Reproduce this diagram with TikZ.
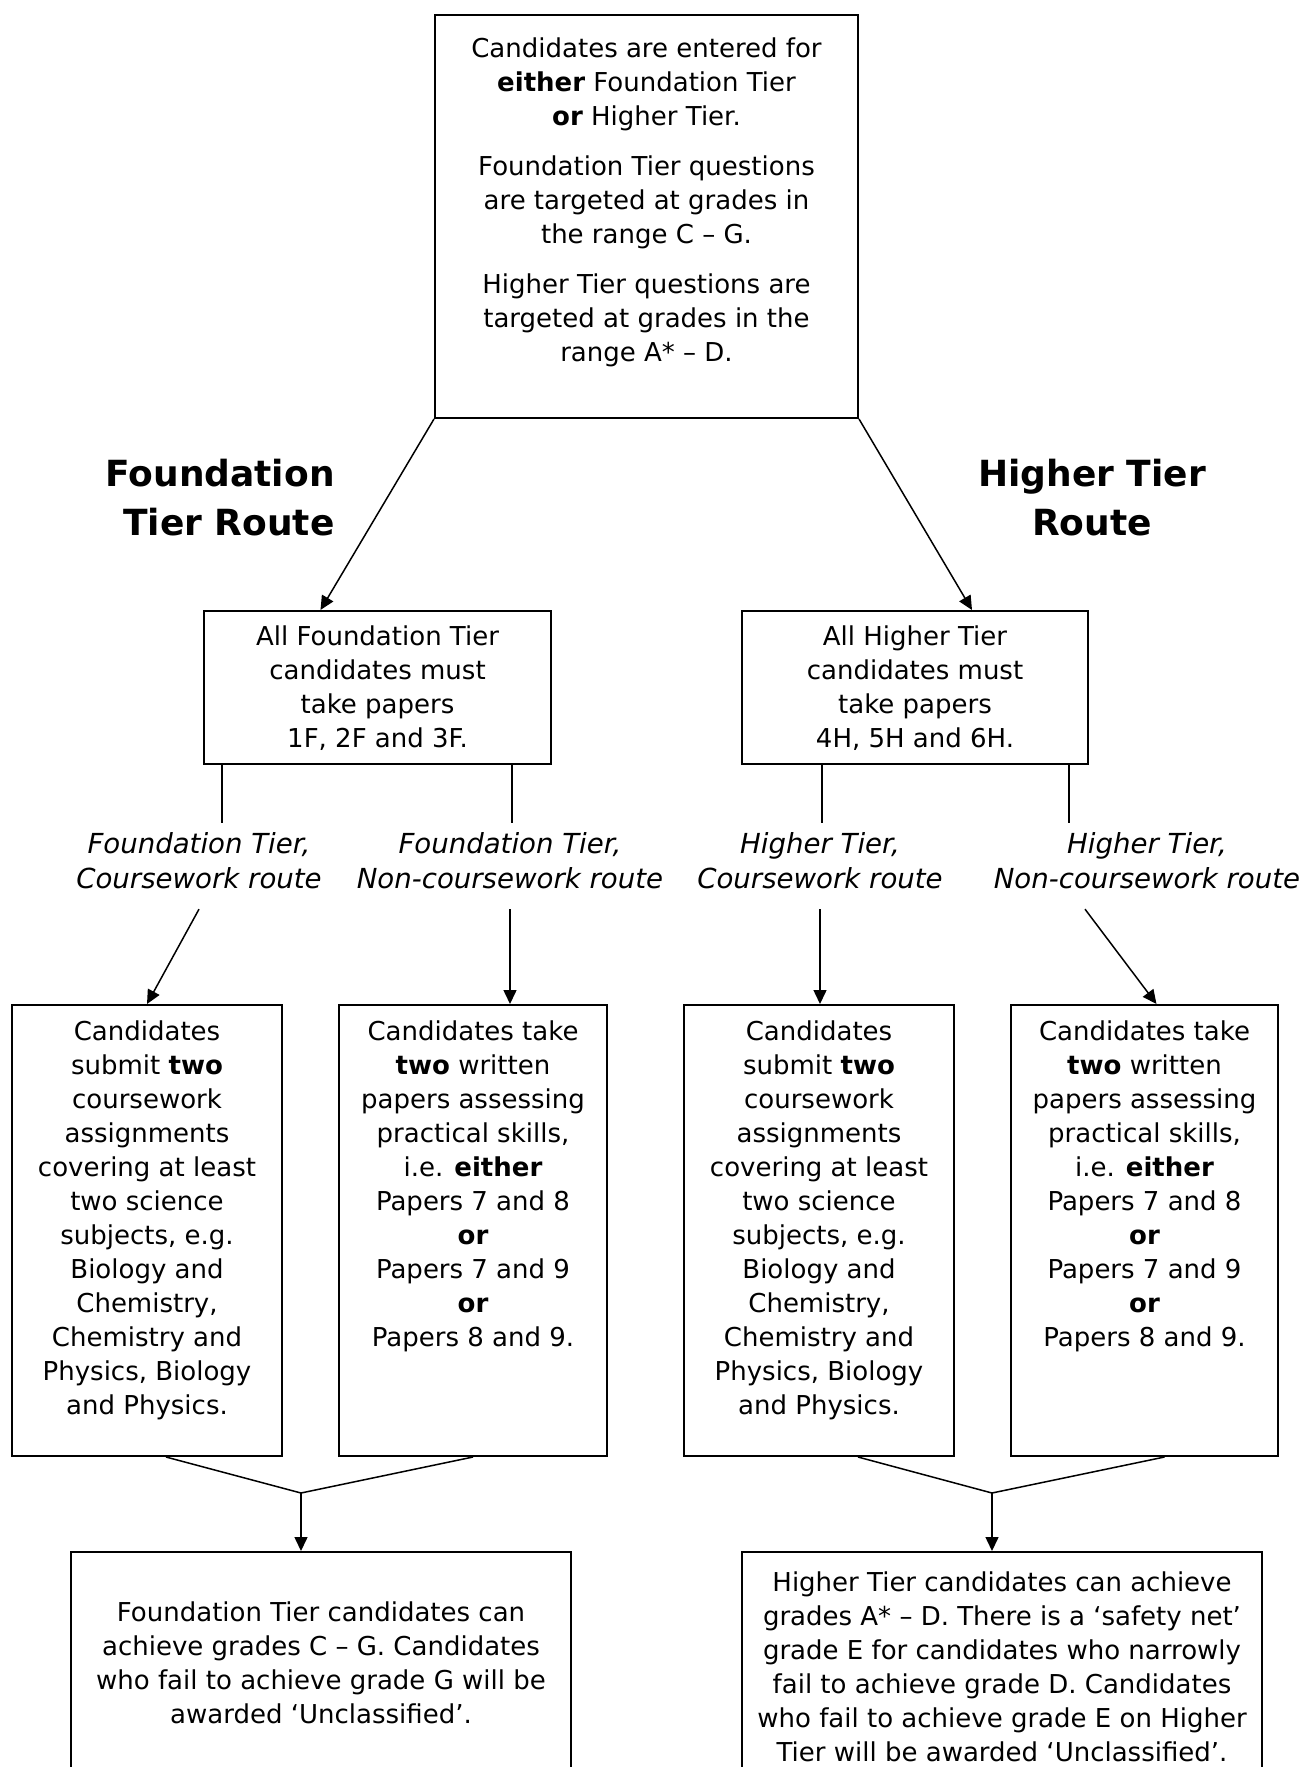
\documentclass[tikz,border=0pt]{standalone}
\usepackage{fontspec}
\setmainfont{DejaVu Sans}
\usetikzlibrary{calc,arrows.meta}

\tikzset{
  box/.style={draw, line width=1pt, inner sep=0pt},
  txt/.style={inner sep=0pt, align=center, font=\fontsize{13}{17}\selectfont},
  routelab/.style={inner sep=5pt, align=center, font=\fontsize{13.8}{17.5}\selectfont\itshape},
  tiertitle/.style={inner sep=0pt, font=\fontsize{18}{24.5}\selectfont\bfseries},
  link/.style={line width=0.75pt},
  arr/.style={link, -{Triangle[length=7pt,width=6.5pt]}}
}

\begin{document}
\begin{tikzpicture}[x=0.5pt,y=-0.5pt]
\useasboundingbox (0,0) rectangle (1303,1767);

\coordinate (FoundCWTop) at (222,823);
\coordinate (FoundNCTop) at (512,823);
\coordinate (HighCWTop)  at (822,823);
\coordinate (HighNCTop)  at (1069,823);
\coordinate (FoundJoin)  at (301,1493);
\coordinate (HighJoin)   at (992,1493);

% the boxes
\node[box, minimum width=211.5pt, minimum height=201.5pt] (Entry) at (646.5,216.5) {};
\node[box, minimum width=173.5pt, minimum height=76.5pt] (FoundAll) at (377.5,687.5) {};
\node[box, minimum width=173pt, minimum height=76.5pt] (HighAll) at (915,687.5) {};
\node[box, minimum width=135pt, minimum height=225.5pt] (FoundCW) at (147,1230.5) {};
\node[box, minimum width=134pt, minimum height=225.5pt] (FoundNC) at (473,1230.5) {};
\node[box, minimum width=135pt, minimum height=225.5pt] (HighCW) at (819,1230.5) {};
\node[box, minimum width=133.5pt, minimum height=225.5pt] (HighNC) at (1144.5,1230.5) {};
\node[box, minimum width=250pt, minimum height=119pt] (FoundRes) at (321,1671) {};
\node[box, minimum width=260pt, minimum height=119pt] (HighRes) at (1002,1671) {};

% texts in the boxes
\node[txt, anchor=north] (EntryText) at ($(Entry.north)+(0,23)$)
  {Candidates are entered for\\ \textbf{either} Foundation Tier\\ \textbf{or} Higher Tier.\\[8pt]
   Foundation Tier questions\\ are targeted at grades in\\ the range C – G.\\[8pt]
   Higher Tier questions are\\ targeted at grades in the\\ range A* – D.};
\node[txt, anchor=north] (FoundAllText) at ($(FoundAll.north)+(0,15)$)
  {All Foundation Tier\\ candidates must\\ take papers\\ 1F, 2F and 3F.};
\node[txt, anchor=north] (HighAllText) at ($(HighAll.north)+(0,15)$)
  {All Higher Tier\\ candidates must\\ take papers\\ 4H, 5H and 6H.};
\node[txt, anchor=north] (FoundCWText) at ($(FoundCW.north)+(0,16)$)
  {Candidates\\ submit \textbf{two}\\ coursework\\ assignments\\ covering at least\\ two science\\
   subjects, e.g.\\ Biology and\\ Chemistry,\\ Chemistry and\\ Physics, Biology\\ and Physics.};
\node[txt, anchor=north] (FoundNCText) at ($(FoundNC.north)+(0,16)$)
  {Candidates take\\ \textbf{two} written\\ papers assessing\\ practical skills,\\ i.e. \textbf{either}\\
   Papers 7 and 8\\ \textbf{or}\\ Papers 7 and 9\\ \textbf{or}\\ Papers 8 and 9.};
\node[txt, anchor=north] (HighCWText) at ($(HighCW.north)+(0,16)$)
  {Candidates\\ submit \textbf{two}\\ coursework\\ assignments\\ covering at least\\ two science\\
   subjects, e.g.\\ Biology and\\ Chemistry,\\ Chemistry and\\ Physics, Biology\\ and Physics.};
\node[txt, anchor=north] (HighNCText) at ($(HighNC.north)+(0,16)$)
  {Candidates take\\ \textbf{two} written\\ papers assessing\\ practical skills,\\ i.e. \textbf{either}\\
   Papers 7 and 8\\ \textbf{or}\\ Papers 7 and 9\\ \textbf{or}\\ Papers 8 and 9.};
\node[txt, anchor=north] (FoundResText) at ($(FoundRes.north)+(0,50)$)
  {Foundation Tier candidates can\\ achieve grades C – G. Candidates\\
   who fail to achieve grade G will be\\ awarded ‘Unclassified’.};
\node[txt, anchor=north] (HighResText) at ($(HighRes.north)+(0,20)$)
  {Higher Tier candidates can achieve\\ grades A* – D. There is a ‘safety net’\\
   grade E for candidates who narrowly\\ fail to achieve grade D. Candidates\\
   who fail to achieve grade E on Higher\\ Tier will be awarded ‘Unclassified’.};

% route titles and labels
\node[tiertitle, align=right, anchor=north east] (FoundTitle) at (335,459) {Foundation\\Tier Route};
\node[tiertitle, align=center, anchor=north] (HighTitle) at (1092,459) {Higher Tier\\Route};

\node[routelab, anchor=north] (FoundCWLab) at (199,822) {Foundation Tier,\\ Coursework route};
\node[routelab, anchor=north] (FoundNCLab) at (510,822) {Foundation Tier,\\ Non-coursework route};
\node[routelab, anchor=north] (HighCWLab) at (820,822) {Higher Tier,\\ Coursework route};
\node[routelab, anchor=north] (HighNCLab) at (1147,822) {Higher Tier,\\ Non-coursework route};

% connectors
\draw[arr] (Entry.south west) -- ($(FoundAll.north)+(-57,0)$);
\draw[arr] (Entry.south east) -- ($(HighAll.north)+(57,0)$);

\draw[link] (FoundCWTop |- FoundAll.south) -- (FoundCWTop);
\draw[link] (FoundNCTop |- FoundAll.south) -- (FoundNCTop);
\draw[link] (HighCWTop |- HighAll.south) -- (HighCWTop);
\draw[link] (HighNCTop |- HighAll.south) -- (HighNCTop);

\draw[arr] ([yshift=-5pt]FoundCWLab.south) -- (FoundCW.north);
\draw[arr] ([yshift=-5pt]FoundNCLab.south) -- (FoundNCLab.south |- FoundNC.north);
\draw[arr] ([yshift=-5pt]HighCWLab.south) -- (HighCWLab.south |- HighCW.north);
\draw[arr] ([xshift=-31pt,yshift=-5pt]HighNCLab.south) -- ([xshift=6pt]HighNC.north);

\draw[link] ($(FoundCW.south)+(19,0)$) -- (FoundJoin) -- (FoundNC.south);
\draw[arr] (FoundJoin) -- (FoundJoin |- FoundRes.north);
\draw[link] ($(HighCW.south)+(39,0)$) -- (HighJoin) -- ($(HighNC.south)+(20,0)$);
\draw[arr] (HighJoin) -- (HighJoin |- HighRes.north);
\end{tikzpicture}
\end{document}
